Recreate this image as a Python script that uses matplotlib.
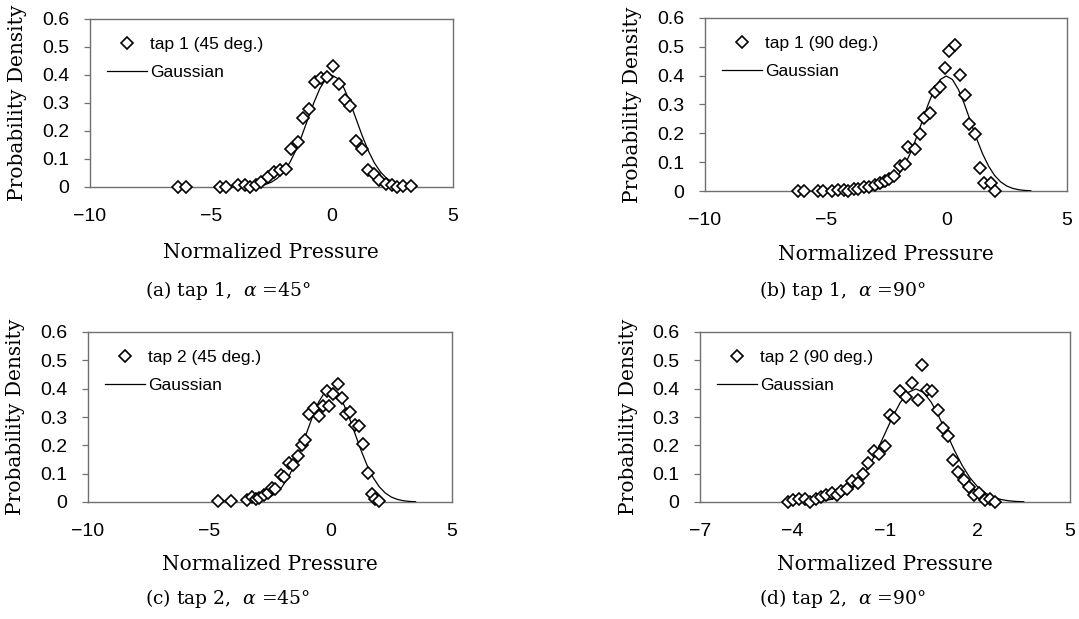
import matplotlib.pyplot as plt
from matplotlib.lines import Line2D

# datos
a_x = [-6.38, -6.05, -4.63, -4.36, -3.90, -3.60, -3.37, -3.15, -2.92, -2.64, -2.39, -2.16, -1.91, -1.68,
       -1.40, -1.19, -0.95, -0.71, -0.46, -0.19, 0.05, 0.29, 0.53, 0.73, 1.01, 1.26, 1.49, 1.72, 1.95,
       2.22, 2.50, 2.70, 2.94, 3.25]
a_y = [0, 0, 0, 0, 0.006, 0.006, 0, 0.008, 0.018, 0.036, 0.054, 0.06, 0.066, 0.134, 0.161, 0.245, 0.277,
       0.376, 0.388, 0.394, 0.433, 0.368, 0.311, 0.29, 0.165, 0.137, 0.06, 0.045, 0.024, 0.012, 0.006, 0,
       0.002, 0.002]

b_x = [-6.16, -5.89, -5.30, -5.09, -4.72, -4.47, -4.26, -4.06, -3.82, -3.64, -3.40, -3.19, -2.95, -2.74,
       -2.56, -2.36, -2.16, -1.94, -1.71, -1.57, -1.30, -1.09, -0.91, -0.67, -0.49, -0.25, -0.05, 0.13,
       0.34, 0.55, 0.78, 0.92, 1.17, 1.40, 1.58, 1.84, 2.03]
b_y = [0, 0, 0, 0, 0, 0.005, 0.005, 0, 0.008, 0.008, 0.014, 0.014, 0.022, 0.028, 0.034, 0.043, 0.051,
       0.086, 0.092, 0.153, 0.145, 0.197, 0.252, 0.272, 0.345, 0.36, 0.426, 0.484, 0.505, 0.403, 0.333,
       0.231, 0.196, 0.081, 0.028, 0.028, 0]

c_x = [-4.63, -4.11, -3.46, -3.26, -3.08, -2.94, -2.75, -2.57, -2.43, -2.30, -2.06, -1.93, -1.71, -1.54,
       -1.36, -1.19, -1.06, -0.88, -0.68, -0.50, -0.33, -0.16, -0.05, 0.09, 0.32, 0.46, 0.64, 0.81, 1.01,
       1.15, 1.35, 1.52, 1.70, 1.83, 2.01]
c_y = [0.002, 0.002, 0.006, 0.018, 0.012, 0.015, 0.024, 0.032, 0.051, 0.047, 0.094, 0.088, 0.139, 0.132,
       0.161, 0.2, 0.22, 0.312, 0.333, 0.302, 0.338, 0.392, 0.338, 0.382, 0.418, 0.368, 0.312, 0.318,
       0.271, 0.267, 0.204, 0.102, 0.029, 0.012, 0.002]

d_x = [-4.13, -3.97, -3.78, -3.59, -3.43, -3.25, -3.08, -2.91, -2.73, -2.57, -2.43, -2.24, -2.06, -1.89,
       -1.70, -1.56, -1.36, -1.18, -1.00, -0.84, -0.70, -0.51, -0.32, -0.14, 0.06, 0.19, 0.35, 0.53, 0.73,
       0.89, 1.03, 1.22, 1.38, 1.57, 1.74, 1.89, 2.06, 2.24, 2.41, 2.57]
d_y = [0, 0.006, 0.012, 0.012, 0, 0.012, 0.018, 0.026, 0.032, 0.024, 0.039, 0.047, 0.074, 0.067, 0.098,
       0.136, 0.181, 0.168, 0.198, 0.307, 0.298, 0.393, 0.37, 0.419, 0.36, 0.484, 0.396, 0.393, 0.325,
       0.26, 0.233, 0.148, 0.106, 0.079, 0.053, 0.024, 0.032, 0.008, 0.012, 0]

# curva gaussiana (leida)
gauss_x = [-3.5, -3.25, -3.0, -2.75, -2.5, -2.25, -2.0, -1.75, -1.5, -1.25, -1.0, -0.75, -0.5, -0.25, 0.0,
           0.25, 0.5, 0.75, 1.0, 1.25, 1.5, 1.75, 2.0, 2.25, 2.5, 2.75, 3.0, 3.25, 3.5]
gauss_y = [0.0009, 0.0020, 0.0044, 0.0091, 0.0175, 0.0317, 0.0540, 0.0863, 0.1295, 0.1826, 0.2420, 0.3011,
           0.3521, 0.3867, 0.3989, 0.3867, 0.3521, 0.3011, 0.2420, 0.1826, 0.1295, 0.0863, 0.0540, 0.0317,
           0.0175, 0.0091, 0.0044, 0.0020, 0.0009]

yticks = [0, 0.1, 0.2, 0.3, 0.4, 0.5, 0.6]
ytick_labels = ['0', '0.1', '0.2', '0.3', '0.4', '0.5', '0.6']
xticks_45 = [-10, -5, 0, 5]
xticks_90 = [-7, -4, -1, 2, 5]

labels = ['tap 1 (45 deg.)', 'tap 1 (90 deg.)', 'tap 2 (45 deg.)', 'tap 2 (90 deg.)']
captions = ['(a) tap 1,  $\\alpha$ =45°', '(b) tap 1,  $\\alpha$ =90°',
            '(c) tap 2,  $\\alpha$ =45°', '(d) tap 2,  $\\alpha$ =90°']

W, H = 1079, 619
fig = plt.figure(figsize=(W / 100, H / 100), dpi=100)
plt.rcParams['mathtext.fontset'] = 'dejavuserif'


def caja(l, t, r, b):
    return [l / W, 1 - b / H, (r - l) / W, (b - t) / H]


paneles = [
    (caja(90, 19, 453, 187), a_x, a_y, xticks_45, (271, 253), (228, 290)),
    (caja(705, 18, 1067, 191), b_x, b_y, xticks_45, (886, 254), (842, 291)),
    (caja(88, 332, 452, 502), c_x, c_y, xticks_45, (270, 565), (228, 598)),
    (caja(700, 332, 1070, 502), d_x, d_y, xticks_90, (885, 565), (842, 598)),
]

gris = '#707070'
for i, (pos, x, y, xt, xl, cap) in enumerate(paneles):
    ax = fig.add_axes(pos)
    ax.plot(gauss_x, gauss_y, '-', color='k', lw=0.9, zorder=3)
    ax.plot(x, y, 'D', mfc='white', mec='k', ms=5.8, mew=1.2, clip_on=False, zorder=4)
    ax.set_xlim(xt[0], xt[-1])
    ax.set_ylim(0, 0.6)
    ax.set_xticks(xt)
    ax.set_xticklabels([str(v).replace('-', '\u2212') for v in xt], family='Liberation Sans', fontsize=14)
    ax.set_yticks(yticks)
    ax.set_yticklabels(ytick_labels, family='Liberation Sans', fontsize=14)
    ax.tick_params(axis='x', length=0, pad=15)
    ax.tick_params(axis='y', length=4, width=0.9, color=gris, pad=11)
    for s in ax.spines.values():
        s.set_color(gris)
        s.set_linewidth(1.0)

    handles = [Line2D([], [], ls='none', marker='D', mfc='white', mec='k', ms=5.8, mew=1.2),
               Line2D([], [], color='k', lw=0.9)]
    ax.legend(handles, [labels[i], 'Gaussian'], loc='upper left', frameon=False,
              bbox_to_anchor=(17 / (pos[2] * W), 1 - 18 / (pos[3] * H)), borderaxespad=0, borderpad=0,
              handlelength=2.3, handletextpad=0.2, labelspacing=0.72,
              prop={'family': 'Liberation Sans', 'size': 12.5})

    # etiqueta del eje y
    fig.text((pos[0] * W - 72) / W, pos[1] + pos[3] / 2, 'Probability Density', rotation=90,
             ha='center', va='center', family='DejaVu Serif', fontsize=14.5)
    fig.text(xl[0] / W, 1 - xl[1] / H, 'Normalized Pressure', ha='center', va='center',
             family='DejaVu Serif', fontsize=14.5)
    fig.text(cap[0] / W, 1 - cap[1] / H, captions[i], ha='center', va='center',
             family='DejaVu Serif', fontsize=13.5)

plt.savefig('out.png', dpi=100)
